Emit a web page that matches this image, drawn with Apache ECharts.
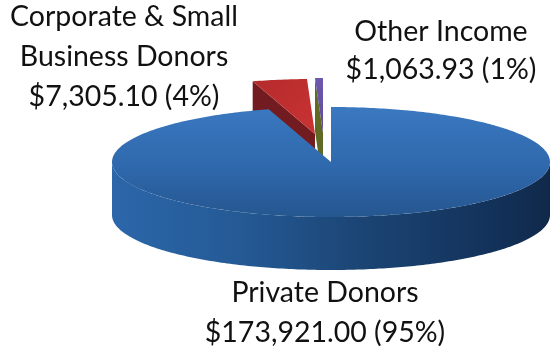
<!DOCTYPE html>
<html>
<head>
<meta charset="utf-8">
<style>html,body{margin:0;padding:0;background:#fff}#c{width:550px;height:347px}</style>
<script src="https://cdn.jsdelivr.net/npm/echarts@6/dist/echarts.min.js"></script>
</head>
<body>
<div id="c"></div>
<script>
const categories = ['Private Donors', 'Corporate & Small\nBusiness Donors', 'Other Income'];
const amounts = [173921.00, 7305.10, 1063.93];
const amountLabels = ['$173,921.00 (95%)', '$7,305.10 (4%)', '$1,063.93 (1%)'];

const chart = echarts.init(document.getElementById('c'), null, {renderer: 'canvas'});
const total = amounts.reduce((a, b) => a + b, 0);
const CX = 331, CY = 162, RX = 219, RY = 55, DEPTH = 53;
const explode = [[0, 0], [-16, -28], [-8, -29]];
const labelPos = [[325, 313], [124, 57], [441, 51]];
const labelLH = [40, 40, 38];
const G = echarts.graphic.LinearGradient;
const topFill = [
  new G(0, 107, 0, 218, [{offset: 0, color: '#3a78c0'}, {offset: 0.55, color: '#2f68ac'}, {offset: 1, color: '#25568f'}], true),
  new G(254, 78, 308, 134, [{offset: 0, color: '#b42b2c'}, {offset: 1, color: '#c93232'}], true),
  new G(0, 77, 0, 134, [{offset: 0, color: '#6f58b0'}, {offset: 1, color: '#5d4a96'}], true)
];
const wallFill = [
  new G(112, 0, 550, 0, [{offset: 0, color: '#2c67aa'}, {offset: 0.3, color: '#245994'}, {offset: 0.55, color: '#1c4676'}, {offset: 0.85, color: '#13335c'}, {offset: 1, color: '#10294a'}], true),
  '#721b20',
  '#5f6a24'
];

function pt(t, ox, oy, dy) {
  return [CX + ox + RX * Math.sin(t), CY + oy + dy - RY * Math.cos(t)];
}
function arc(a0, a1, ox, oy, dy) {
  const out = [];
  const n = Math.max(2, Math.ceil((a1 - a0) / 0.015));
  for (let i = 0; i <= n; i++) out.push(pt(a0 + (a1 - a0) * i / n, ox, oy, dy));
  return out;
}

function renderItem(params, api) {
  const i = params.dataIndex;
  const before = amounts.slice(0, i).reduce((a, b) => a + b, 0);
  const a0 = before / total * 2 * Math.PI;
  const a1 = a0 + api.value(1) / total * 2 * Math.PI;
  const [ox, oy] = explode[i];
  const apex = [CX + ox, CY + oy];
  const zBase = i === 0 ? 20 : 5 + i;
  const children = [];

  if (i === 0) {
    const s = Math.PI / 2, e = Math.PI * 1.5;
    const upper = arc(s, e, ox, oy, 0);
    const lower = arc(s, e, ox, oy, DEPTH).reverse();
    children.push({type: 'polygon', z2: zBase, shape: {points: upper.concat(lower)}, style: {fill: wallFill[i]}});
  } else {
    const p = pt(a0, ox, oy, 0);
    children.push({
      type: 'polygon', z2: zBase,
      shape: {points: [p, [p[0], p[1] + DEPTH], [apex[0], apex[1] + DEPTH], apex]},
      style: {fill: wallFill[i]}
    });
  }
  children.push({
    type: 'polygon', z2: zBase + 1,
    shape: {points: [apex].concat(arc(a0, a1, ox, oy, 0))},
    style: {fill: topFill[i]}
  });
  children.push({
    type: 'text', z2: 40,
    style: {
      x: labelPos[i][0], y: labelPos[i][1],
      text: categories[i] + '\n' + amountLabels[i],
      fill: '#111111',
      font: '28.5px Lato, "Open Sans", sans-serif',
      lineHeight: labelLH[i], align: 'center', verticalAlign: 'middle'
    }
  });
  return {type: 'group', children};
}

chart.setOption({
  animation: false,
  backgroundColor: '#ffffff',
  series: [{
    type: 'custom',
    coordinateSystem: 'none',
    silent: true,
    clip: false,
    renderItem,
    data: amounts.map((v, i) => [i, v])
  }]
});
</script>
</body>
</html>
